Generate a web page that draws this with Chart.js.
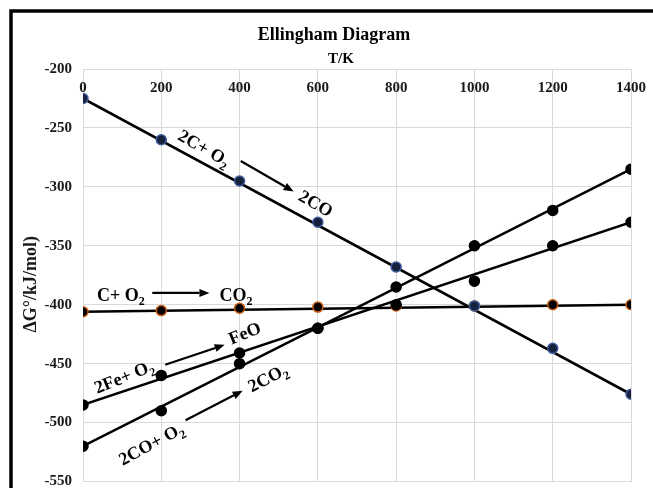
<!DOCTYPE html>
<html>
<head>
<meta charset="utf-8">
<script src="https://cdn.jsdelivr.net/npm/chart.js@4.4.1/dist/chart.umd.min.js"></script>
<style>
  html, body { margin: 0; padding: 0; background: #ffffff; }
  #wrap { position: relative; width: 653px; height: 488px; }
</style>
</head>
<body>
<div id="wrap"><canvas id="c" width="653" height="488"></canvas></div>
<script>
// ---- data ----
const temperatures = [0, 200, 400, 600, 800, 1000, 1200, 1400];
const xTickValues = [0, 200, 400, 600, 800, 1000, 1200, 1400];
const yTickValues = [-200, -250, -300, -350, -400, -450, -500, -550];

// 2C + O2 -> 2CO
const coValues = [-225, -260, -295, -330, -368, -401, -437, -476];
// C + O2 -> CO2
const co2Values = [-406, -405, -403, -402, -401, -401, -400, -400];
// 2Fe + O2 -> 2FeO
const feoValues = [-485, -460, -441, -420, -400, -380, -350, -330];
// 2CO + O2 -> 2CO2
const coToCo2Values = [-520, -490, -450, -420, -385, -350, -320, -285];

// straight trend lines drawn through each set (end values)
const trendTemps = [0, 1400];
const coTrend = [-225, -476];
const co2Trend = [-406, -400];
const feoTrend = [-485, -330];
const coToCo2Trend = [-520, -285];

const chartTitle = 'Ellingham Diagram';
const xTitle = 'T/K';
const yTitle = 'ΔG°/kJ/mol)';

function pts(xs, ys) { return xs.map((x, i) => ({ x: x, y: ys[i] })); }

const SERIF = '"Liberation Serif", "Times New Roman", serif';

function markerSet(label, values, fill, edge) {
  return {
    label: label, data: pts(temperatures, values), showLine: false,
    pointRadius: 5, pointHoverRadius: 5, pointBackgroundColor: fill,
    pointBorderColor: edge, pointBorderWidth: 1.5, order: 0
  };
}
function trendSet(label, values) {
  return {
    label: label, data: pts(trendTemps, values), showLine: true,
    borderColor: '#000000', borderWidth: 2.5, pointRadius: 0, pointHoverRadius: 0,
    fill: false, order: 1
  };
}

function drawRuns(ctx, cx, cy, angleDeg, runs, size) {
  const big = 'bold ' + size + 'px ' + SERIF;
  const small = 'bold ' + Math.round(size * 0.68) + 'px ' + SERIF;
  let w = 0;
  runs.forEach(r => { ctx.font = r[1] ? small : big; w += ctx.measureText(r[0]).width; });
  ctx.save();
  ctx.translate(cx, cy);
  ctx.rotate(angleDeg * Math.PI / 180);
  ctx.fillStyle = '#000000';
  ctx.textAlign = 'left';
  ctx.textBaseline = 'alphabetic';
  let x = -w / 2;
  const base = size * 0.33;
  runs.forEach(r => {
    ctx.font = r[1] ? small : big;
    ctx.fillText(r[0], x, base + (r[1] ? size * 0.25 : 0));
    x += ctx.measureText(r[0]).width;
  });
  ctx.restore();
}

function drawArrow(ctx, x1, y1, x2, y2) {
  const a = Math.atan2(y2 - y1, x2 - x1);
  const hl = 10, hw = 4;
  ctx.save();
  ctx.strokeStyle = '#000000';
  ctx.fillStyle = '#000000';
  ctx.lineWidth = 2.2;
  ctx.beginPath();
  ctx.moveTo(x1, y1);
  ctx.lineTo(x2 - hl * Math.cos(a), y2 - hl * Math.sin(a));
  ctx.stroke();
  ctx.beginPath();
  ctx.moveTo(x2, y2);
  ctx.lineTo(x2 - hl * Math.cos(a) + hw * Math.sin(a), y2 - hl * Math.sin(a) - hw * Math.cos(a));
  ctx.lineTo(x2 - hl * Math.cos(a) - hw * Math.sin(a), y2 - hl * Math.sin(a) + hw * Math.cos(a));
  ctx.closePath();
  ctx.fill();
  ctx.restore();
}

const decorPlugin = {
  id: 'decor',
  beforeDraw(chart) {
    const ctx = chart.ctx;
    ctx.save();
    ctx.fillStyle = '#ffffff';
    ctx.fillRect(0, 0, chart.width, chart.height);
    ctx.restore();
  },
  afterDraw(chart) {
    const ctx = chart.ctx;
    const xs = chart.scales.x, ys = chart.scales.y;
    const P = (xv, yv) => [xs.getPixelForValue(xv), ys.getPixelForValue(yv)];
    ctx.save();
    // frame
    ctx.strokeStyle = '#000000';
    ctx.lineWidth = 3.5;
    ctx.beginPath();
    ctx.moveTo(11, chart.height + 5);
    ctx.lineTo(11, 11);
    ctx.lineTo(chart.width + 5, 11);
    ctx.stroke();
    // titles
    ctx.fillStyle = '#000000';
    ctx.textAlign = 'center';
    ctx.textBaseline = 'middle';
    ctx.font = 'bold 18px ' + SERIF;
    ctx.fillText(chartTitle, 334, 35);
    ctx.font = 'bold 15px ' + SERIF;
    ctx.fillText(xTitle, 341, 59);
    // y axis title
    ctx.save();
    ctx.translate(31, (chart.chartArea.top + chart.chartArea.bottom) / 2 + 9);
    ctx.rotate(-Math.PI / 2);
    ctx.font = 'bold 18px ' + SERIF;
    ctx.fillStyle = '#1a1a1a';
    ctx.fillText(yTitle, 0, 0);
    ctx.restore();
    // x tick labels (inside, under the top edge)
    ctx.font = 'bold 15px ' + SERIF;
    ctx.fillStyle = '#1a1a1a';
    xTickValues.forEach(v => {
      ctx.fillText(String(v), xs.getPixelForValue(v), chart.chartArea.top + 19);
    });
    ctx.restore();

    // annotations
    let p, q;
    p = P(310, -267); drawRuns(ctx, p[0], p[1], 30, [['2C+ O', false], ['2', true]], 18);
    p = P(403, -278); q = P(538, -304); drawArrow(ctx, p[0], p[1], q[0], q[1]);
    p = P(595, -314); drawRuns(ctx, p[0], p[1], 30, [['2CO', false]], 18);

    p = P(97, -391.5); drawRuns(ctx, p[0], p[1], 0, [['C+ O', false], ['2', true]], 18);
    p = P(177, -390); q = P(323, -390); drawArrow(ctx, p[0], p[1], q[0], q[1]);
    p = P(391, -391.5); drawRuns(ctx, p[0], p[1], 0, [['CO', false], ['2', true]], 18);

    p = P(105, -461); drawRuns(ctx, p[0], p[1], -22, [['2Fe+ O', false], ['2', true]], 18);
    p = P(210, -451); q = P(362, -434); drawArrow(ctx, p[0], p[1], q[0], q[1]);
    p = P(413, -424); drawRuns(ctx, p[0], p[1], -22, [['FeO', false]], 18);

    p = P(174, -518); drawRuns(ctx, p[0], p[1], -28, [['2CO+ O', false], ['2', true]], 18);
    p = P(262, -498); q = P(408, -473); drawArrow(ctx, p[0], p[1], q[0], q[1]);
    p = P(472, -462); drawRuns(ctx, p[0], p[1], -27, [['2CO', false], ['2', true]], 18);
  }
};

new Chart(document.getElementById('c'), {
  type: 'scatter',
  data: {
    datasets: [
      markerSet('2C + O2 → 2CO', coValues, '#16213d', '#3b5998'),
      markerSet('2CO + O2 → 2CO2', coToCo2Values, '#000000', '#000000'),
      markerSet('2Fe + O2 → 2FeO', feoValues, '#000000', '#000000'),
      markerSet('C + O2 → CO2', co2Values, '#000000', '#c55a11'),
      trendSet('2C + O2 → 2CO trend', coTrend),
      trendSet('C + O2 → CO2 trend', co2Trend),
      trendSet('2Fe + O2 → 2FeO trend', feoTrend),
      trendSet('2CO + O2 → 2CO2 trend', coToCo2Trend)
    ]
  },
  options: {
    responsive: false,
    animation: false,
    events: [],
    layout: { padding: { top: 69, right: 22, bottom: 5, left: 0 } },
    plugins: { legend: { display: false }, tooltip: { enabled: false }, title: { display: false } },
    scales: {
      x: {
        type: 'linear', position: 'bottom', min: 0, max: 1400,
        afterBuildTicks(scale) { scale.ticks = xTickValues.map(v => ({ value: v })); },
        afterFit(scale) { scale.height = 0; scale.paddingLeft = 0; scale.paddingRight = 0; },
        ticks: { display: false },
        grid: { color: '#d9d9d9', lineWidth: 1, drawTicks: false },
        border: { display: false }
      },
      y: {
        type: 'linear', min: -550, max: -200,
        afterBuildTicks(scale) { scale.ticks = yTickValues.map(v => ({ value: v })); },
        afterFit(scale) { scale.width = 83; scale.paddingTop = 0; scale.paddingBottom = 0; },
        ticks: {
          padding: 11, color: '#1a1a1a',
          font: { family: SERIF, size: 15, weight: 'bold' }
        },
        grid: { color: '#d9d9d9', lineWidth: 1, drawTicks: false },
        border: { display: false },
        title: { display: false }
      }
    }
  },
  plugins: [decorPlugin]
});
</script>
</body>
</html>
